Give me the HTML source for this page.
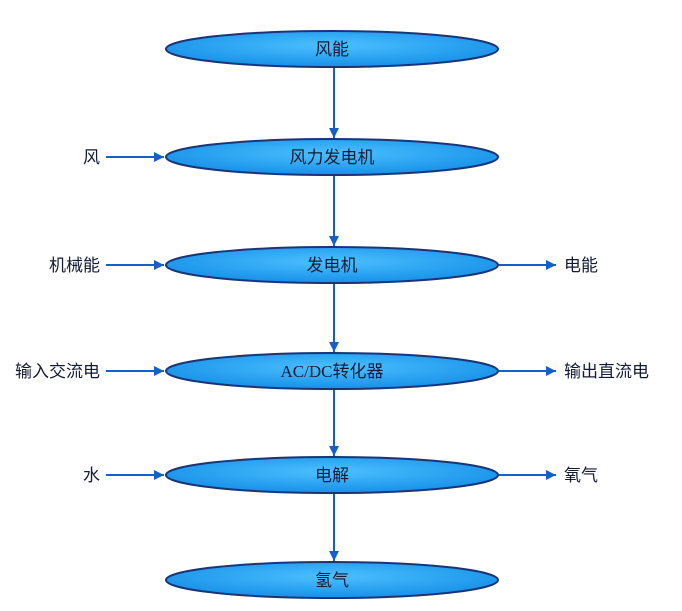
<!DOCTYPE html>
<html><head><meta charset="utf-8"><style>
body{margin:0;background:#fff}
svg text{font-family:"Liberation Sans","Noto Sans CJK SC",sans-serif;font-size:17px;fill:#141a33}
.s{font-family:"Liberation Serif","Noto Sans CJK SC",serif}
</style></head><body>
<svg width="682" height="606" xmlns="http://www.w3.org/2000/svg">
<defs>
<radialGradient id="g" cx="50%" cy="40%" r="60%">
<stop offset="0" stop-color="#4cc0ff"/><stop offset="1" stop-color="#1690e8"/>
</radialGradient>
<marker id="a" viewBox="0 0 10 10" refX="10" refY="5" markerWidth="11" markerHeight="10" orient="auto" markerUnits="userSpaceOnUse"><path d="M0,0 L10,5 L0,10z" fill="#1560c8"/></marker>
</defs>
<g stroke="#1560c8" stroke-width="2" fill="none" marker-end="url(#a)">
<line x1="334" y1="68" x2="334" y2="138"/>
<line x1="334" y1="176" x2="334" y2="246"/>
<line x1="334" y1="284" x2="334" y2="352"/>
<line x1="334" y1="390" x2="334" y2="456"/>
<line x1="334" y1="494" x2="334" y2="561"/>
<line x1="106" y1="157" x2="164" y2="157"/>
<line x1="106" y1="265" x2="164" y2="265"/>
<line x1="106" y1="371" x2="164" y2="371"/>
<line x1="106" y1="475" x2="164" y2="475"/>
<line x1="498" y1="265" x2="556" y2="265"/>
<line x1="498" y1="371" x2="556" y2="371"/>
<line x1="498" y1="475" x2="556" y2="475"/>
</g>
<g fill="url(#g)" stroke="#1a3478" stroke-width="2">
<ellipse cx="332" cy="49" rx="166" ry="18"/>
<ellipse cx="332" cy="157" rx="166" ry="18"/>
<ellipse cx="332" cy="265" rx="166" ry="18"/>
<ellipse cx="332" cy="371" rx="166" ry="18"/>
<ellipse cx="332" cy="475" rx="166" ry="18"/>
<ellipse cx="332" cy="580" rx="166" ry="18"/>
</g>
<g text-anchor="middle" style="font-size:18px">
<text x="332" y="55">风能</text>
<text x="332" y="163">风力发电机</text>
<text x="332" y="271">发电机</text>
<text x="332" y="377" class="s">AC/DC转化器</text>
<text x="332" y="481">电解</text>
<text x="332" y="586">氢气</text>
</g>
<g text-anchor="end">
<text x="100" y="163">风</text>
<text x="100" y="271">机械能</text>
<text x="100" y="377">输入交流电</text>
<text x="100" y="481">水</text>
</g>
<text x="564" y="271">电能</text>
<text x="564" y="377">输出直流电</text>
<text x="564" y="481">氧气</text>
</svg>
</body></html>
